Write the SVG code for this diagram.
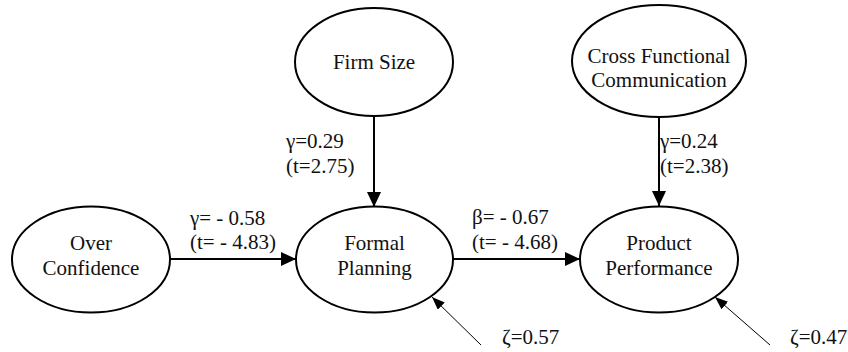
<svg xmlns="http://www.w3.org/2000/svg" width="848" height="352" viewBox="0 0 848 352">
  <style>
    .node ellipse { fill: #ffffff; stroke: #000000; stroke-width: 2; }
    .ctr { text-anchor: middle; }
    .main { stroke: #000000; stroke-width: 2; fill: none; marker-end: url(#bigArrow); }
    .dist { stroke: #000000; stroke-width: 1; fill: none; marker-end: url(#smallArrow); }
  </style>
  <defs>
    <marker id="bigArrow" markerUnits="userSpaceOnUse" markerWidth="16" markerHeight="14" refX="15" refY="7" orient="auto">
      <path d="M0,0 L15,7 L0,14 z" fill="#000000"/>
    </marker>
    <marker id="smallArrow" markerUnits="userSpaceOnUse" markerWidth="14" markerHeight="10" refX="13" refY="5" orient="auto">
      <path d="M0,0 L13,5 L0,10 z" fill="#000000"/>
    </marker>
  </defs>
  <rect width="848" height="352" fill="#ffffff"/>

  <g id="connectors">
    <line class="main" x1="170" y1="259" x2="296" y2="259"/>
    <line class="main" x1="374" y1="116" x2="374" y2="207"/>
    <line class="main" x1="453" y1="259" x2="580" y2="259"/>
    <line class="main" x1="659" y1="117" x2="659" y2="206"/>
    <line class="dist" x1="481" y1="345" x2="432" y2="297"/>
    <line class="dist" x1="770" y1="345" x2="715" y2="297"/>
  </g>

  <g id="labels" fill="#111111">
    <text font-family="Liberation Serif" font-size="21" x="190" y="225">γ= - 0.58</text>
    <text font-family="Liberation Serif" font-size="21" x="190" y="249">(t= - 4.83)</text>
    <text font-family="Liberation Serif" font-size="21" x="472" y="224">β= - 0.67</text>
    <text font-family="Liberation Serif" font-size="21" x="472" y="249">(t= - 4.68)</text>
    <text font-family="Liberation Serif" font-size="21" x="286" y="148">γ=0.29</text>
    <text font-family="Liberation Serif" font-size="21" x="286" y="173">(t=2.75)</text>
    <text font-family="Liberation Serif" font-size="21" x="660" y="148">γ=0.24</text>
    <text font-family="Liberation Serif" font-size="21" x="660" y="173">(t=2.38)</text>
    <text font-family="Liberation Serif" font-size="21" x="502" y="344">ζ=0.57</text>
    <text font-family="Liberation Serif" font-size="21" x="790" y="344">ζ=0.47</text>
  </g>

  <g id="firm-size" class="node" fill="#111111">
    <ellipse cx="374" cy="62" rx="79" ry="54"/>
    <text font-family="Liberation Serif" font-size="21" class="ctr" x="374" y="69">Firm Size</text>
  </g>
  <g id="cross-functional-communication" class="node" fill="#111111">
    <ellipse cx="659" cy="61" rx="87" ry="56"/>
    <text font-family="Liberation Serif" font-size="21" class="ctr" x="659" y="63">Cross Functional</text>
    <text font-family="Liberation Serif" font-size="21" class="ctr" x="659" y="87">Communication</text>
  </g>
  <g id="over-confidence" class="node" fill="#111111">
    <ellipse cx="91" cy="259.5" rx="79" ry="53"/>
    <text font-family="Liberation Serif" font-size="21" class="ctr" x="91" y="250">Over</text>
    <text font-family="Liberation Serif" font-size="21" class="ctr" x="91" y="275">Confidence</text>
  </g>
  <g id="formal-planning" class="node" fill="#111111">
    <ellipse cx="374.5" cy="259.5" rx="78.5" ry="53"/>
    <text font-family="Liberation Serif" font-size="21" class="ctr" x="374.5" y="250">Formal</text>
    <text font-family="Liberation Serif" font-size="21" class="ctr" x="374.5" y="275">Planning</text>
  </g>
  <g id="product-performance" class="node" fill="#111111">
    <ellipse cx="659" cy="259.5" rx="79" ry="53"/>
    <text font-family="Liberation Serif" font-size="21" class="ctr" x="659" y="250">Product</text>
    <text font-family="Liberation Serif" font-size="21" class="ctr" x="659" y="275">Performance</text>
  </g>
</svg>
